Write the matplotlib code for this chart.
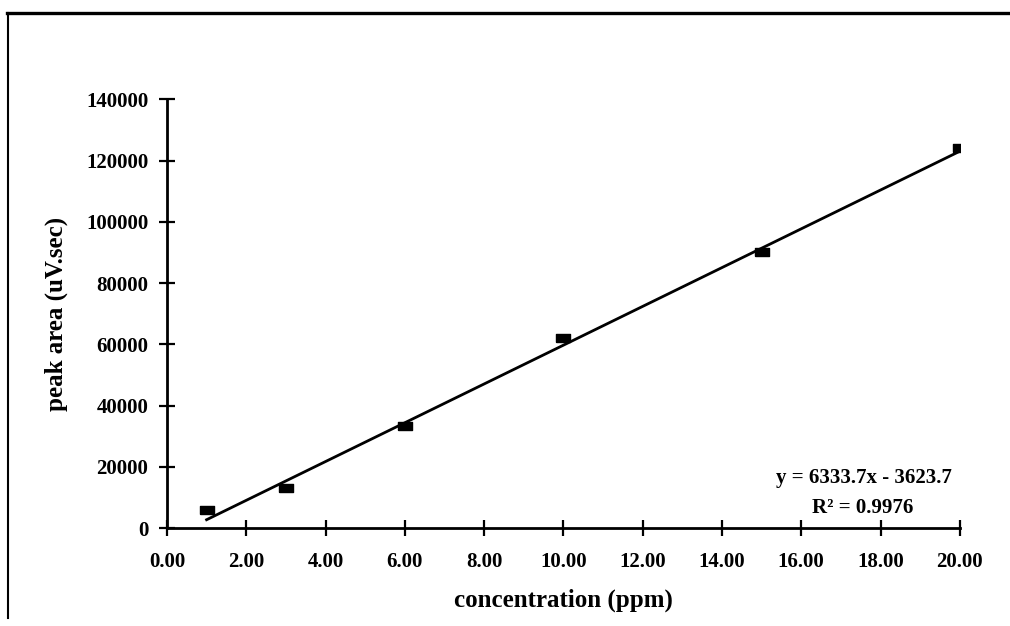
import matplotlib
matplotlib.use('Agg')
import matplotlib.pyplot as plt
from matplotlib.lines import Line2D
import numpy as np

# calibration standards
conc_ppm = [1.0, 3.0, 6.0, 10.0, 15.0, 20.0]
peak_area = [5880, 13060, 33300, 62000, 90100, 124100]

# linear fit reported on the chart
slope = 6333.7
intercept = -3623.7
r_squared = 0.9976

x_ticks = [0, 2, 4, 6, 8, 10, 12, 14, 16, 18, 20]
y_ticks = [0, 20000, 40000, 60000, 80000, 100000, 120000, 140000]

plt.rcParams['font.family'] = ['Liberation Serif', 'DejaVu Serif']

fig = plt.figure(figsize=(10.10, 6.26), dpi=100)
ax = fig.add_axes([0.1653, 0.1565, 0.785, 0.6848])

# flat rectangular markers
rect = [(-1, -0.6), (1, -0.6), (1, 0.6), (-1, 0.6), (-1, -0.6)]
ax.plot(conc_ppm, peak_area, linestyle='none', marker=rect, markersize=9.5,
        color='black')
fit_x = np.array([conc_ppm[0], conc_ppm[-1]])
ax.plot(fit_x, slope * fit_x + intercept, color='black', linewidth=2)

ax.set_xlim(0, 20)
ax.set_ylim(0, 140000)
ax.set_xticks(x_ticks)
ax.set_xticklabels([f'{v:.2f}' for v in x_ticks])
ax.set_yticks(y_ticks)
ax.set_yticklabels([str(v) for v in y_ticks])

for side in ('top', 'right'):
    ax.spines[side].set_visible(False)
for side in ('left', 'bottom'):
    ax.spines[side].set_linewidth(2)

ax.tick_params(direction='inout', length=12, width=1.6, labelsize=15)
ax.tick_params(axis='x', pad=11)
ax.tick_params(axis='y', pad=7.5)
for lbl in ax.get_xticklabels() + ax.get_yticklabels():
    lbl.set_fontweight('bold')

ax.set_xlabel('concentration (ppm)', fontsize=18, fontweight='bold', labelpad=12)
ax.set_ylabel('peak area (uV.sec)', fontsize=18, fontweight='bold', labelpad=13)

ax.text(0.879, 0.117, f'y = {slope}x - {-intercept}', transform=ax.transAxes,
        ha='center', va='center', fontsize=15, fontweight='bold')
ax.text(0.877, 0.047, f'R\u00b2 = {r_squared}', transform=ax.transAxes,
        ha='center', va='center', fontsize=15, fontweight='bold')

# page frame around the figure
fig.add_artist(Line2D([0.007, 1.0], [0.979, 0.979], transform=fig.transFigure,
                      color='black', linewidth=2.4))
fig.add_artist(Line2D([0.008, 0.008], [0.979, 0.012], transform=fig.transFigure,
                      color='black', linewidth=1.5))

fig.savefig('out.png', dpi=100)
